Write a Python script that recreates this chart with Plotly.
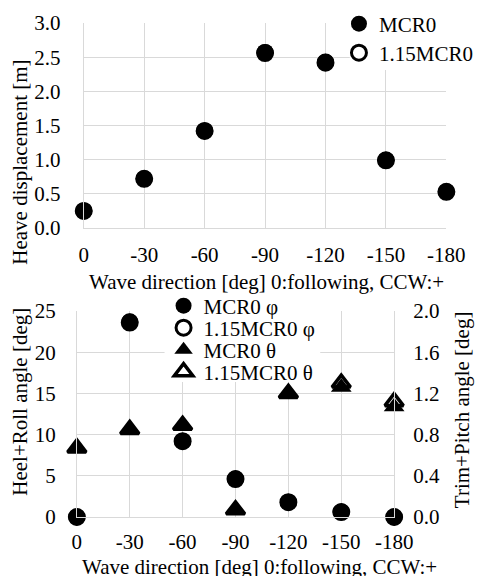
import plotly.graph_objects as go

# ---- data ----
directions = [0, -30, -60, -90, -120, -150, -180]
dir_labels = ["0", "-30", "-60", "-90", "-120", "-150", "-180"]

heave_mcr0 = [0.25, 0.72, 1.42, 2.57, 2.43, 0.99, 0.53]
heave_115mcr0 = [0.25, 0.72, 1.42, 2.56, 2.42, 0.99, 0.53]

roll_mcr0 = [0.0, 23.7, 9.2, 4.6, 1.8, 0.6, 0.0]
roll_115mcr0 = [0.0, 23.6, 9.2, 4.6, 1.8, 0.6, 0.0]

pitch_mcr0 = [0.67, 0.85, 0.89, 0.07, 1.20, 1.26, 1.07]
pitch_115mcr0 = [0.67, 0.85, 0.89, 0.07, 1.20, 1.30, 1.12]

FONT = "Liberation Serif, Times New Roman, serif"
FS = 21
W, H = 478, 576
GRID = "#d9d9d9"


def px(x):
    return x / W


def py(y):
    return 1 - y / H


fig = go.Figure()

open_circle = dict(symbol="circle-open", size=15, color="black", line=dict(width=3, color="black"))
open_tri = dict(symbol="triangle-up-open", size=16, color="black", line=dict(width=3.5, color="black"))

# ---- top: heave ----
fig.add_trace(go.Scatter(x=directions, y=heave_mcr0, mode="markers", name="MCR0",
                         marker=dict(symbol="circle", size=17, color="black"),
                         xaxis="x", yaxis="y", legend="legend", cliponaxis=False))
fig.add_trace(go.Scatter(x=directions, y=heave_115mcr0, mode="markers", name="1.15MCR0",
                         marker=open_circle, xaxis="x", yaxis="y", legend="legend2", cliponaxis=False))

# ---- bottom: roll (left axis) / pitch (right axis) ----
fig.add_trace(go.Scatter(x=directions, y=roll_mcr0, mode="markers", name="MCR0 φ",
                         marker=dict(symbol="circle", size=17, color="black"),
                         xaxis="x2", yaxis="y2", legend="legend3", cliponaxis=False))
fig.add_trace(go.Scatter(x=directions, y=roll_115mcr0, mode="markers", name="1.15MCR0 φ",
                         marker=open_circle, xaxis="x2", yaxis="y2", legend="legend4", cliponaxis=False))
fig.add_trace(go.Scatter(x=directions, y=pitch_115mcr0, mode="markers", name="1.15MCR0 θ",
                         marker=open_tri, xaxis="x2", yaxis="y3", legend="legend6", cliponaxis=False))
fig.add_trace(go.Scatter(x=directions, y=pitch_mcr0, mode="markers", name="MCR0 θ",
                         marker=dict(symbol="triangle-up", size=18, color="black"),
                         xaxis="x2", yaxis="y3", legend="legend5", cliponaxis=False))

tickfont = dict(family=FONT, size=FS, color="black")
common_x = dict(range=[0, -180], tickmode="array", tickvals=directions, ticktext=dir_labels,
                showgrid=True, gridcolor=GRID, gridwidth=1, zeroline=False,
                showline=True, linecolor=GRID, linewidth=1, ticks="", tickfont=tickfont)

fig.update_layout(
    template="none",
    width=W, height=H,
    margin=dict(l=0, r=0, t=0, b=0, pad=0),
    paper_bgcolor="white", plot_bgcolor="white",
    font=dict(family=FONT, size=FS, color="black"),
    xaxis=dict(domain=[px(85), px(453)], anchor="y", ticklabelstandoff=8, **common_x),
    yaxis=dict(domain=[py(228), py(23)], anchor="x", range=[0, 3], dtick=0.5, tickformat=".1f",
               showgrid=True, gridcolor=GRID, zeroline=False, showline=True, linecolor=GRID,
               ticks="", tickfont=tickfont, ticklabelstandoff=18),
    xaxis2=dict(domain=[px(78), px(400)], anchor="y2", ticklabelstandoff=6, **common_x),
    yaxis2=dict(domain=[py(517), py(311)], anchor="x2", range=[0, 25], dtick=5,
                showgrid=True, gridcolor=GRID, zeroline=False, showline=True, linecolor=GRID,
                ticks="", tickfont=tickfont, ticklabelstandoff=16),
    yaxis3=dict(overlaying="y2", anchor="x2", side="right", range=[0, 2], dtick=0.4, tickformat=".1f",
                showgrid=False, zeroline=False, showline=True, linecolor=GRID,
                ticks="", tickfont=tickfont, ticklabelstandoff=14),
    showlegend=True,
)

leg_common = dict(xanchor="left", yanchor="middle", bgcolor="rgba(0,0,0,0)", borderwidth=0,
                  font=dict(family=FONT, size=FS, color="black"))
fig.update_layout(
    legend=dict(x=px(344), y=py(24), **leg_common),
    legend2=dict(x=px(344), y=py(53), **leg_common),
    legend3=dict(x=px(166), y=py(306), **leg_common),
    legend4=dict(x=px(166), y=py(328), **leg_common),
    legend5=dict(x=px(166), y=py(350), **leg_common),
    legend6=dict(x=px(166), y=py(372), **leg_common),
)

# white boxes behind the legends (hide gridlines like the original legend areas)
fig.add_shape(type="rect", xref="paper", yref="paper", x0=px(355), x1=1, y0=py(70), y1=py(6),
              fillcolor="white", line=dict(width=0), layer="above")
fig.add_shape(type="rect", xref="paper", yref="paper", x0=px(167), x1=px(325), y0=py(382), y1=py(294),
              fillcolor="white", line=dict(width=0), layer="above")

# axis titles
ann_font = dict(family=FONT, size=FS, color="black")
fig.add_annotation(text="Heave displacement [m]", xref="paper", yref="paper", x=px(20), y=py(162),
                   textangle=-90, showarrow=False, font=ann_font, xanchor="center", yanchor="middle")
fig.add_annotation(text="Wave direction [deg] 0:following, CCW:+", xref="paper", yref="paper",
                   x=px(270), y=py(282), showarrow=False, font=ann_font, xanchor="center", yanchor="middle")
fig.add_annotation(text="Heel+Roll angle [deg]", xref="paper", yref="paper", x=px(20), y=py(402),
                   textangle=-90, showarrow=False, font=ann_font, xanchor="center", yanchor="middle")
fig.add_annotation(text="Trim+Pitch angle [deg]", xref="paper", yref="paper", x=px(469), y=py(410),
                   textangle=-90, showarrow=False, font=ann_font, xanchor="center", yanchor="middle")
fig.add_annotation(text="Wave direction [deg] 0:following, CCW:+", xref="paper", yref="paper",
                   x=px(263), y=py(567), showarrow=False, font=ann_font, xanchor="center", yanchor="middle")

fig.write_html(
    "out.html",
    config={"displayModeBar": False},
    post_script="document.documentElement.style.margin='0';document.body.style.margin='0';"
                "document.body.style.padding='0';document.body.style.overflow='hidden';",
)
